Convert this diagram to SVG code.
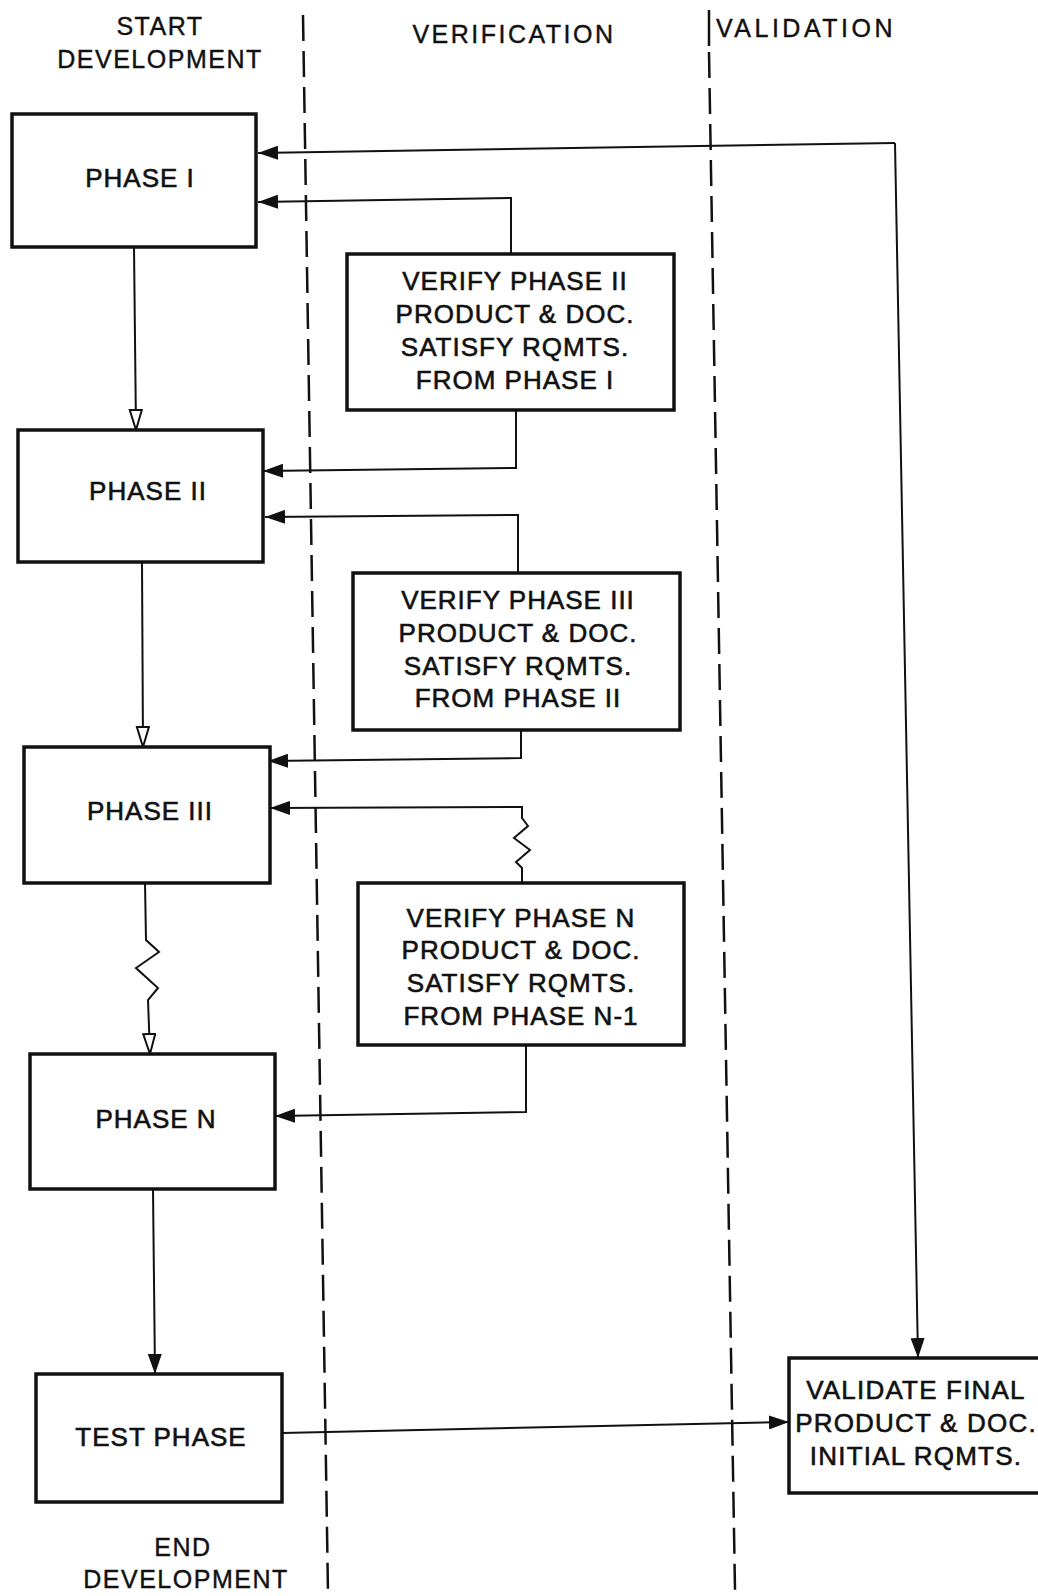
<svg xmlns="http://www.w3.org/2000/svg" width="1038" height="1596" viewBox="0 0 1038 1596">
<style>
  .box { fill: #fff; stroke: #111; stroke-width: 3.5; }
  .t { font-family: "Liberation Sans", Arial, sans-serif; font-size: 26px; fill: #111; stroke: #111; stroke-width: 0.6; text-anchor: middle; letter-spacing: 1px; }
  .v { letter-spacing: 1.2px; }
  .h { font-family: "Liberation Sans", Arial, sans-serif; font-size: 25px; fill: #111; stroke: #111; stroke-width: 0.4; text-anchor: middle; letter-spacing: 1.5px; }
  .c { fill: none; stroke: #111; stroke-width: 2; }
  .div { fill: none; stroke: #111; stroke-width: 2.5; stroke-dasharray: 26 10; }
</style>
<defs>
  <marker id="arrF" markerUnits="userSpaceOnUse" markerWidth="22" markerHeight="14" refX="20" refY="7" orient="auto">
    <path d="M0,0 L20,7 L0,14 z" fill="#111"/>
  </marker>
  <marker id="arrO" markerUnits="userSpaceOnUse" markerWidth="24" markerHeight="16" refX="21" refY="7" orient="auto">
    <path d="M1,1 L21,7 L1,13 z" fill="#fff" stroke="#111" stroke-width="2"/>
  </marker>
</defs>
<rect width="1038" height="1596" fill="#fff"/>

<g id="lanes">
  <line class="div" x1="303" y1="15" x2="328" y2="1593"/>
  <line class="div" x1="709" y1="52" x2="735" y2="1590"/>
  <line x1="709" y1="10" x2="709" y2="46" stroke="#111" stroke-width="2.5"/>
  <text class="h" x="160" y="35">START</text>
  <text class="h" x="160" y="68">DEVELOPMENT</text>
  <text class="h" x="514" y="43" style="letter-spacing:2.5px">VERIFICATION</text>
  <text class="h" x="716" y="37" style="text-anchor:start;letter-spacing:3.5px">VALIDATION</text>
  <text class="h" x="183" y="1556">END</text>
  <text class="h" x="186" y="1588">DEVELOPMENT</text>
</g>

<g id="connectors">
  <polyline class="c" points="895,143 258,153" marker-end="url(#arrF)"/>
  <polyline class="c" points="895,143 918,1358" marker-end="url(#arrF)"/>
  <polyline class="c" points="511,254 511,198 258,202" marker-end="url(#arrF)"/>
  <polyline class="c" points="516,410 516,468 263,471" marker-end="url(#arrF)"/>
  <polyline class="c" points="518,573 518,515 265,517" marker-end="url(#arrF)"/>
  <polyline class="c" points="521,730 521,758 268,761" marker-end="url(#arrF)"/>
  <polyline class="c" points="522,883 522,868 516,862 530,850 514,838 528,826 522,818 522,807 270,808" marker-end="url(#arrF)"/>
  <polyline class="c" points="526,1045 526,1112 275,1116" marker-end="url(#arrF)"/>
  <polyline class="c" points="134,247 136,430" marker-end="url(#arrO)"/>
  <polyline class="c" points="142,562 143,747" marker-end="url(#arrO)"/>
  <polyline class="c" points="145,883 146,940 159,952 136,968 158,988 148,1000 150,1054" marker-end="url(#arrO)"/>
  <polyline class="c" points="153,1189 155,1374" marker-end="url(#arrF)"/>
  <polyline class="c" points="282,1433 789,1422" marker-end="url(#arrF)"/>
</g>

<g id="phase1">
  <rect class="box" x="12" y="114" width="244" height="133"/>
  <text class="t" x="140" y="187">PHASE I</text>
</g>
<g id="phase2">
  <rect class="box" x="18" y="430" width="245" height="132"/>
  <text class="t" x="148" y="500">PHASE II</text>
</g>
<g id="phase3">
  <rect class="box" x="24" y="747" width="246" height="136"/>
  <text class="t" x="150" y="820">PHASE III</text>
</g>
<g id="phaseN">
  <rect class="box" x="30" y="1054" width="245" height="135"/>
  <text class="t" x="156" y="1128">PHASE N</text>
</g>
<g id="testPhase">
  <rect class="box" x="36" y="1374" width="246" height="128"/>
  <text class="t" x="161" y="1446">TEST PHASE</text>
</g>
<g id="verify2">
  <rect class="box" x="347" y="254" width="327" height="156"/>
  <text class="t" x="515" y="290">VERIFY PHASE II</text>
  <text class="t" x="515" y="323">PRODUCT &amp; DOC.</text>
  <text class="t" x="515" y="356">SATISFY RQMTS.</text>
  <text class="t" x="515" y="389">FROM PHASE I</text>
</g>
<g id="verify3">
  <rect class="box" x="353" y="573" width="327" height="157"/>
  <text class="t" x="518" y="609">VERIFY PHASE III</text>
  <text class="t" x="518" y="642">PRODUCT &amp; DOC.</text>
  <text class="t" x="518" y="675">SATISFY RQMTS.</text>
  <text class="t" x="518" y="707">FROM PHASE II</text>
</g>
<g id="verifyN">
  <rect class="box" x="358" y="883" width="326" height="162"/>
  <text class="t" x="521" y="927">VERIFY PHASE N</text>
  <text class="t" x="521" y="959">PRODUCT &amp; DOC.</text>
  <text class="t" x="521" y="992">SATISFY RQMTS.</text>
  <text class="t" x="521" y="1025">FROM PHASE N-1</text>
</g>
<g id="validate">
  <rect class="box" x="789" y="1358" width="270" height="135"/>
  <text class="t v" x="916" y="1399">VALIDATE FINAL</text>
  <text class="t v" x="916" y="1432">PRODUCT &amp; DOC.</text>
  <text class="t v" x="916" y="1465">INITIAL RQMTS.</text>
</g>
</svg>
